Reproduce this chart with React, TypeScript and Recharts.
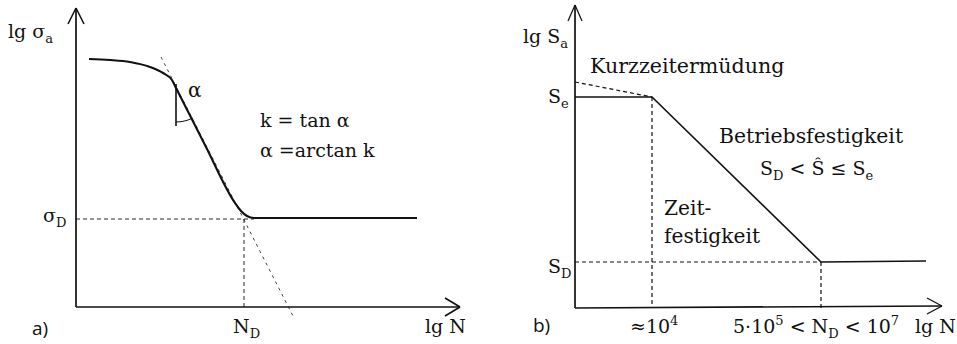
import React from 'react';
import { ComposedChart, Line, XAxis, YAxis, ReferenceLine, ReferenceDot } from 'recharts';

// ---------- Panel a) : lg σa over lg N (units measured from the axis origin) ----------
const curveA = [
  { x: 13, y: 248 }, { x: 34, y: 247 }, { x: 54, y: 245 }, { x: 74, y: 240 },
  { x: 87, y: 234 }, { x: 96, y: 227 }, { x: 99, y: 221 }, { x: 129, y: 162 },
  { x: 159, y: 104 }, { x: 165, y: 96 }, { x: 171, y: 91 }, { x: 178, y: 89 },
  { x: 224, y: 89 }, { x: 341, y: 89 },
];
const tangentA = [{ x: 85, y: 250 }, { x: 217, y: -9 }];
const sigmaDA = [{ x: 0, y: 88 }, { x: 178, y: 88 }];
const nDA = [{ x: 168, y: 88 }, { x: 168, y: 0 }];
const alphaLegA = [{ x: 100, y: 223 }, { x: 100, y: 181 }];
const alphaArcA = [{ x: 100, y: 185 }, { x: 106, y: 185.5 }, { x: 112, y: 187 }, { x: 117, y: 189 }];
const xAxisA = [{ x: 0, y: 0 }, { x: 384, y: 0 }];
const xArrowA = [{ x: 369, y: 9 }, { x: 384, y: 0 }, { x: 369, y: -9 }];
const yAxisA = [{ x: 0, y: 0 }, { x: 0, y: 299 }];
const yArrowA = [{ x: -8, y: 283 }, { x: 0, y: 299 }, { x: 8, y: 283 }];

// ---------- Panel b) : lg Sa over lg N ----------
const curveB = [{ x: 0, y: 211 }, { x: 77, y: 211 }, { x: 246, y: 46 }, { x: 351, y: 47 }];
const shortTermB = [{ x: 0, y: 226 }, { x: 77, y: 211 }];
const n4B = [{ x: 77, y: 211 }, { x: 77, y: 0 }];
const sDB = [{ x: 0, y: 46 }, { x: 246, y: 46 }];
const nDB = [{ x: 246, y: 46 }, { x: 246, y: 0 }];
const xAxisB = [{ x: 0, y: 0 }, { x: 367, y: 2 }];
const xArrowB = [{ x: 352, y: 10 }, { x: 367, y: 2 }, { x: 352, y: -6 }];
const yAxisB = [{ x: 0, y: 0 }, { x: 0, y: 303 }];
const yArrowB = [{ x: -7, y: 287 }, { x: 0, y: 303 }, { x: 7, y: 287 }];

type Part = { t: string; sub?: boolean; sup?: boolean };
type Lbl = { x: number; y: number; parts: Part[]; size?: number; sans?: boolean };

const labelsA: Lbl[] = [
  { x: -68, y: 269, parts: [{ t: 'lg σ' }, { t: 'a', sub: true }] },
  { x: 112, y: 210, parts: [{ t: 'α' }], size: 20 },
  { x: 184, y: 180, parts: [{ t: 'k = tan α' }], size: 19 },
  { x: 184, y: 150, parts: [{ t: 'α =arctan k' }], size: 19 },
  { x: -33, y: 85, parts: [{ t: 'σ' }, { t: 'D', sub: true }] },
  { x: -44, y: -28, parts: [{ t: 'a)' }], sans: true },
  { x: 157, y: -26, parts: [{ t: 'N' }, { t: 'D', sub: true }] },
  { x: 349, y: -26, parts: [{ t: 'lg N' }] },
];

const labelsB: Lbl[] = [
  { x: -52, y: 265, parts: [{ t: 'lg S' }, { t: 'a', sub: true }] },
  { x: 15, y: 235, parts: [{ t: 'Kurzzeitermüdung' }], size: 20.6 },
  { x: -27, y: 205, parts: [{ t: 'S' }, { t: 'e', sub: true }] },
  { x: 144, y: 165, parts: [{ t: 'Betriebsfestigkeit' }], size: 20.4 },
  { x: 185, y: 133, parts: [{ t: 'S' }, { t: 'D', sub: true }, { t: ' < Ŝ ≤ S' }, { t: 'e', sub: true }] },
  { x: 89, y: 93, parts: [{ t: 'Zeit-' }], size: 20.2 },
  { x: 89, y: 65, parts: [{ t: 'festigkeit' }], size: 20.2 },
  { x: -27, y: 35, parts: [{ t: 'S' }, { t: 'D', sub: true }] },
  { x: -42, y: -24, parts: [{ t: 'b)' }], sans: true },
  { x: 55, y: -25, parts: [{ t: '≈10' }, { t: '4', sup: true }] },
  { x: 158, y: -25, parts: [{ t: '5·10' }, { t: '5', sup: true }, { t: ' < N' }, { t: 'D', sub: true }, { t: ' < 10' }, { t: '7', sup: true }] },
  { x: 340, y: -25, parts: [{ t: 'lg N' }] },
];

const SERIF = '"DejaVu Serif", serif';
const SANS = '"Open Sans", "DejaVu Sans", sans-serif';
const INK = '#111';

function TextShape(props: any) {
  const { cx, cy, lbl } = props;
  const size = lbl.size ?? 19;
  const small = 13;
  let shift = 0;
  return (
    <text x={cx} y={cy} fontFamily={lbl.sans ? SANS : SERIF} fontSize={size} fill={INK} style={{ whiteSpace: 'pre' }}>
      {lbl.parts.map((p: Part, i: number) => {
        const target = p.sub ? 5 : p.sup ? -8 : 0;
        const dy = target - shift;
        shift = target;
        return (
          <tspan key={i} dy={dy} fontSize={p.sub || p.sup ? small : size}>
            {p.t}
          </tspan>
        );
      })}
    </text>
  );
}

function Seg({ pts, dash, w = 1.5, k }: { pts: { x: number; y: number }[]; dash?: string; w?: number; k: string }) {
  const out = [] as any[];
  for (let i = 0; i < pts.length - 1; i++) {
    out.push(
      <ReferenceLine
        key={k + i}
        segment={[pts[i], pts[i + 1]]}
        stroke={INK}
        strokeWidth={w}
        strokeDasharray={dash}
        ifOverflow="visible"
      />
    );
  }
  return out;
}

function Panel(props: {
  width: number; xDom: [number, number]; yDom: [number, number];
  children: any;
}) {
  return (
    <ComposedChart width={props.width} height={344} margin={{ top: 0, right: 0, bottom: 0, left: 0 }}>
      <XAxis type="number" dataKey="x" domain={props.xDom} hide allowDataOverflow />
      <YAxis type="number" dataKey="y" domain={props.yDom} hide allowDataOverflow />
      {props.children}
    </ComposedChart>
  );
}

export default function App() {
  return (
    <div style={{ position: 'absolute', left: 0, top: 0, width: 957, height: 344, background: '#fff', display: 'flex' }}>
      <Panel width={480} xDom={[-76, 404]} yDom={[-37, 307]}>
        {Seg({ pts: tangentA, dash: '3 4', w: 0.8, k: 'tg' })}
        {Seg({ pts: sigmaDA, dash: '4 3', w: 0.9, k: 'sd' })}
        {Seg({ pts: nDA, dash: '4 3', w: 0.9, k: 'nd' })}
        {Seg({ pts: xAxisA, w: 1.7, k: 'xa' })}
        {Seg({ pts: xArrowA, w: 1.6, k: 'xr' })}
        {Seg({ pts: yAxisA, w: 1.7, k: 'ya' })}
        {Seg({ pts: yArrowA, w: 1.6, k: 'yr' })}
        {Seg({ pts: alphaLegA, w: 1.6, k: 'al' })}
        <Line data={alphaArcA} dataKey="y" type="monotone" stroke={INK} strokeWidth={1} dot={false} activeDot={false} isAnimationActive={false} />
        <Line data={curveA} dataKey="y" type="monotone" stroke={INK} strokeWidth={2.1} dot={false} activeDot={false} isAnimationActive={false} />
        {labelsA.map((l, i) => (
          <ReferenceDot key={'la' + i} x={l.x} y={l.y} r={0} ifOverflow="visible" shape={(p: any) => <TextShape {...p} lbl={l} />} />
        ))}
      </Panel>
      <Panel width={477} xDom={[-95, 382]} yDom={[-36, 308]}>
        {Seg({ pts: shortTermB, dash: '4 3', w: 1.2, k: 'st' })}
        {Seg({ pts: n4B, dash: '4 3', w: 1.2, k: 'n4' })}
        {Seg({ pts: sDB, dash: '4 3', w: 1.2, k: 'sdb' })}
        {Seg({ pts: nDB, dash: '4 3', w: 1.2, k: 'ndb' })}
        {Seg({ pts: xAxisB, w: 1.7, k: 'xb' })}
        {Seg({ pts: xArrowB, w: 1.2, k: 'xrb' })}
        {Seg({ pts: yAxisB, w: 1.7, k: 'yb' })}
        {Seg({ pts: yArrowB, w: 1.2, k: 'yrb' })}
        <Line data={curveB} dataKey="y" type="linear" stroke={INK} strokeWidth={1.6} dot={false} activeDot={false} isAnimationActive={false} />
        {labelsB.map((l, i) => (
          <ReferenceDot key={'lb' + i} x={l.x} y={l.y} r={0} ifOverflow="visible" shape={(p: any) => <TextShape {...p} lbl={l} />} />
        ))}
      </Panel>
    </div>
  );
}
